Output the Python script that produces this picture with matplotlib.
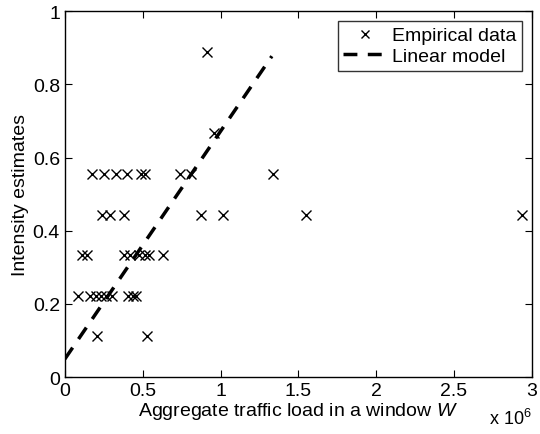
import numpy as np
import matplotlib
matplotlib.use("Agg")
import matplotlib.pyplot as plt

plt.rcParams['font.family'] = ['Liberation Sans', 'DejaVu Sans']
plt.rcParams['mathtext.fontset'] = 'custom'
plt.rcParams['mathtext.rm'] = 'Liberation Sans'
plt.rcParams['mathtext.it'] = 'Liberation Sans:italic'

# traffic load (x 10^6) and intensity estimates
load_mio = [0.173, 0.250, 0.328, 0.398, 0.488, 0.514, 0.739, 0.809, 1.336,
            0.912, 0.957,
            0.238, 0.289, 0.379, 0.873, 1.013, 1.548, 2.935,
            0.109, 0.141, 0.379, 0.417, 0.475, 0.514, 0.540, 0.629,
            0.083, 0.161, 0.199, 0.231, 0.263, 0.302, 0.405, 0.437, 0.456,
            0.204, 0.529]
intensity = [0.556] * 9 + [0.889, 0.667] + [0.444] * 7 + [0.333] * 8 + [0.222] * 9 + [0.111] * 2

model_x = [0.0, 1.33]
model_y = [0.049, 0.877]

fig = plt.figure(figsize=(5.4, 4.35), dpi=100)
ax = fig.add_axes([0.12, 0.131, 0.865, 0.841])

ax.plot(load_mio, intensity, 'x', color='black', markersize=7, markeredgewidth=1.0,
        label='Empirical data')
ax.plot(model_x, model_y, '--', color='black', linewidth=2.5, dashes=(4, 3),
        label='Linear model')

ax.set_xlim(0, 3)
ax.set_ylim(0, 1)
ax.set_xticks([0, 0.5, 1, 1.5, 2, 2.5, 3])
ax.set_xticklabels(['0', '0.5', '1', '1.5', '2', '2.5', '3'])
ax.set_yticks([0, 0.2, 0.4, 0.6, 0.8, 1])
ax.set_yticklabels(['0', '0.2', '0.4', '0.6', '0.8', '1'])
ax.tick_params(direction='in', top=True, right=True, labelsize=14, length=5)
for s in ax.spines.values():
    s.set_linewidth(1.0)

ax.set_xlabel('Aggregate traffic load in a window $\\mathit{W}$', fontsize=14, labelpad=1)
ax.set_ylabel('Intensity estimates', fontsize=14, labelpad=3)
ax.text(1.0, -0.085, 'x 10$^6$', transform=ax.transAxes, ha='right', va='top', fontsize=13)

leg = ax.legend(loc='upper right', fontsize=14, frameon=True, fancybox=False,
                edgecolor='black', handlelength=2.2, borderpad=0.3, labelspacing=0.15,
                handletextpad=0.3, borderaxespad=0.5, markerscale=0.8)
leg.get_frame().set_linewidth(1.0)

fig.savefig('out.png', dpi=100)
